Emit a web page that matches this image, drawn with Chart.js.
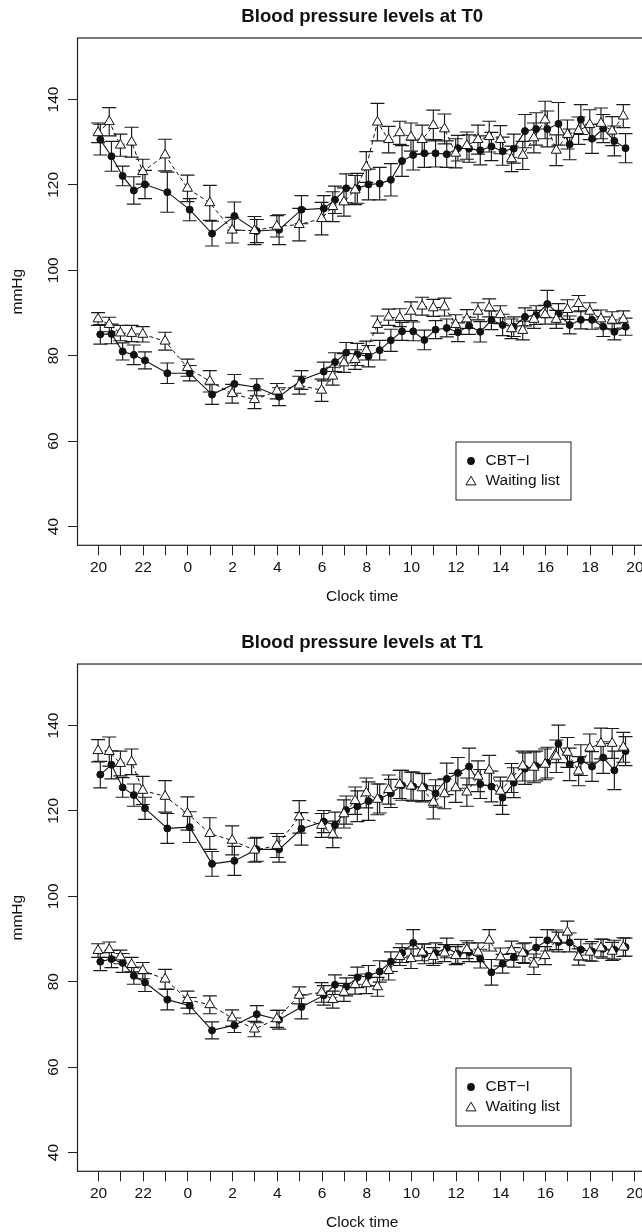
<!DOCTYPE html>
<html>
<head>
<meta charset="utf-8">
<script src="https://cdn.jsdelivr.net/npm/chart.js@4.4.1/dist/chart.umd.min.js"></script>
<style>
  html, body { margin: 0; padding: 0; background: #fff; overflow: hidden; width: 642px; height: 1232px; }
  canvas { display: block; }
</style>
</head>
<body>
<canvas id="chartT0" width="662" height="626"></canvas>
<canvas id="chartT1" width="662" height="626"></canvas>
<script>
// Clock times of the ambulatory readings (hours, next day continues past 24)
const times = [20, 20.5, 21, 21.5, 22, 23, 24, 25, 26, 27, 28, 29, 30, 30.5, 31, 31.5, 32, 32.5, 33, 33.5,
    34, 34.5, 35, 35.5, 36, 36.5, 37, 37.5, 38, 38.5, 39, 39.5, 40, 40.5, 41, 41.5, 42, 42.5, 43, 43.5];

// T0 - systolic / diastolic means and half error bars
const sysCbtT0 = [130.6, 126.7, 122.1, 118.7, 120.1, 118.3, 114.2, 108.6, 112.7, 109.2, 109.5, 114.2, 114.5, 116.5, 119.2, 119.2, 120.1, 120.3, 121.2, 125.6,
    127.0, 127.4, 127.4, 127.2, 128.6, 128.5, 128.1, 129.0, 127.9, 128.5, 132.6, 133.1, 133.1, 134.3, 129.5, 135.3, 130.8, 133.2, 130.3, 128.6];
const sysWlT0 = [132.2, 134.8, 129.3, 130.0, 123.1, 127.0, 119.2, 115.8, 109.4, 109.3, 110.3, 110.7, 112.1, 114.9, 116.0, 118.8, 124.2, 134.7, 130.6, 132.2,
    131.2, 130.6, 133.9, 133.1, 127.4, 129.2, 130.6, 131.3, 130.6, 126.1, 126.9, 131.0, 135.2, 128.1, 131.8, 132.7, 134.1, 134.4, 132.6, 136.1];
const diaCbtT0 = [85.0, 85.1, 81.0, 80.2, 78.9, 75.9, 75.9, 70.9, 73.4, 72.6, 70.4, 74.3, 76.3, 78.5, 80.7, 80.3, 79.9, 81.3, 83.6, 85.7,
    85.7, 83.7, 86.1, 86.5, 85.5, 87.0, 85.6, 88.3, 87.2, 86.8, 89.1, 89.5, 92.1, 89.8, 87.2, 88.4, 88.4, 86.8, 85.6, 86.8];
const diaWlT0 = [88.6, 87.3, 85.3, 85.2, 85.0, 83.4, 77.2, 74.0, 71.1, 69.7, 71.7, 73.1, 71.9, 75.2, 78.3, 79.1, 81.2, 87.3, 89.0, 88.9,
    90.4, 91.6, 91.2, 91.4, 87.3, 88.6, 90.4, 91.2, 89.6, 86.3, 85.9, 88.5, 89.6, 88.5, 90.8, 92.2, 90.4, 88.6, 88.3, 88.5];
const sysCbtT0Err = [3.6, 3.5, 2.3, 3.2, 3.3, 4.7, 2.6, 2.9, 3.3, 2.7, 3.5, 3.3, 3.0, 3.2, 3.4, 3.5, 3.6, 3.8, 3.8, 3.6,
    3.5, 3.3, 3.2, 3.1, 3.0, 3.2, 3.4, 3.3, 3.3, 3.4, 3.9, 3.8, 4.2, 5.0, 3.6, 3.5, 3.4, 3.3, 3.5, 3.4];
const sysWlT0Err = [2.3, 3.3, 2.6, 3.5, 2.9, 3.7, 3.1, 4.1, 3.0, 3.3, 2.5, 3.8, 3.8, 3.5, 3.3, 3.4, 3.6, 4.4, 3.1, 2.7,
    3.3, 3.4, 3.6, 3.5, 3.4, 3.2, 3.4, 3.6, 3.3, 3.0, 3.3, 3.5, 4.4, 3.6, 3.4, 3.2, 3.5, 3.6, 3.4, 2.7];
const diaCbtT0Err = [2.3, 2.3, 2.0, 2.3, 2.0, 2.4, 1.8, 2.3, 2.2, 2.0, 2.1, 2.2, 2.2, 2.2, 2.4, 2.6, 2.5, 2.3, 2.6, 2.1,
    2.2, 2.3, 2.1, 2.1, 2.2, 2.0, 2.4, 2.2, 2.5, 2.3, 2.1, 2.2, 3.2, 2.4, 2.1, 2.1, 2.2, 2.3, 1.9, 2.0];
const diaWlT0Err = [1.5, 1.7, 1.8, 1.9, 1.8, 2.1, 2.0, 2.5, 2.2, 2.1, 1.8, 2.1, 2.6, 2.1, 2.2, 2.3, 2.2, 2.0, 1.9, 2.1,
    2.2, 2.1, 2.0, 2.1, 2.3, 2.2, 2.0, 2.1, 2.1, 2.3, 2.2, 2.1, 2.2, 2.1, 2.3, 1.9, 2.0, 2.1, 2.0, 2.0];

// T1
const sysCbtT1 = [128.5, 130.8, 125.5, 123.7, 120.6, 115.9, 116.2, 107.6, 108.3, 111.0, 111.0, 115.8, 117.5, 116.7, 120.2, 121.1, 122.3, 122.9, 124.1, 126.0,
    125.7, 125.6, 124.1, 127.5, 128.9, 130.4, 126.3, 125.7, 123.1, 126.6, 129.9, 130.5, 131.3, 135.7, 130.9, 131.9, 130.4, 132.5, 129.5, 134.0];
const sysWlT1 = [134.1, 133.9, 131.1, 131.5, 124.8, 123.4, 119.4, 114.7, 113.1, 110.8, 111.9, 118.6, 116.6, 114.5, 119.3, 122.4, 124.2, 122.7, 125.0, 126.2,
    125.8, 125.4, 122.0, 124.0, 125.4, 124.4, 128.1, 129.5, 124.6, 127.7, 130.5, 130.2, 130.9, 132.8, 133.7, 129.3, 134.7, 135.8, 135.8, 134.9];
const diaCbtT1 = [84.7, 85.3, 84.4, 81.4, 79.8, 75.8, 74.4, 68.6, 69.8, 72.4, 71.1, 74.1, 76.8, 79.3, 78.8, 81.0, 81.4, 82.4, 84.7, 86.7,
    89.1, 86.5, 86.7, 87.9, 86.5, 86.9, 85.4, 82.2, 84.2, 85.7, 86.7, 88.0, 89.7, 89.3, 89.2, 87.5, 87.1, 87.7, 87.5, 88.1];
const diaWlT1 = [87.3, 87.5, 85.8, 84.0, 82.6, 80.6, 75.8, 74.6, 71.5, 68.9, 71.3, 76.8, 77.5, 75.8, 77.5, 79.3, 79.5, 78.8, 82.6, 85.9,
    85.4, 86.9, 85.9, 86.7, 86.1, 87.5, 86.9, 89.7, 85.8, 87.3, 86.7, 84.1, 86.1, 89.8, 91.6, 85.8, 86.9, 87.9, 87.1, 88.1];
const sysCbtT1Err = [3.1, 3.3, 2.3, 2.6, 2.6, 3.5, 3.6, 2.9, 3.4, 2.8, 3.0, 3.8, 2.6, 3.0, 3.3, 3.6, 4.5, 3.4, 3.3, 3.5,
    3.4, 3.2, 3.2, 3.7, 3.6, 4.3, 3.4, 3.6, 3.9, 3.5, 3.7, 3.5, 3.6, 4.4, 3.8, 3.6, 3.5, 3.7, 4.5, 3.4];
const sysWlT1Err = [2.6, 3.4, 2.9, 3.0, 3.3, 3.7, 3.9, 3.7, 3.4, 2.8, 2.8, 3.8, 2.8, 3.1, 3.3, 3.2, 3.5, 3.6, 3.4, 3.3,
    3.3, 3.3, 3.9, 3.5, 3.4, 3.3, 3.6, 3.5, 3.3, 3.4, 3.5, 3.6, 3.6, 3.8, 3.5, 3.4, 3.3, 3.6, 3.5, 3.5];
const diaCbtT1Err = [2.1, 2.0, 2.2, 2.0, 2.1, 2.4, 1.9, 2.0, 1.7, 2.0, 2.2, 2.8, 2.3, 2.3, 2.1, 2.4, 2.4, 2.5, 2.3, 2.2,
    3.1, 2.3, 2.4, 2.3, 2.2, 2.2, 2.2, 3.0, 2.2, 2.3, 2.4, 2.4, 2.5, 2.3, 2.2, 2.4, 2.3, 2.2, 2.2, 2.1];
const diaWlT1Err = [1.6, 1.8, 1.6, 1.7, 1.9, 2.3, 2.0, 2.1, 1.9, 1.8, 2.0, 2.0, 2.3, 2.0, 2.1, 2.2, 2.3, 2.2, 2.2, 2.1,
    2.3, 2.0, 2.1, 2.0, 2.1, 2.1, 2.2, 2.5, 2.1, 2.2, 2.2, 2.4, 2.1, 2.3, 2.6, 1.9, 2.0, 2.1, 2.1, 2.2];

const groupLabels = ['CBT\u2212I', 'Waiting list'];
const yTicksStep = 20;

// small horizontal offset so the two groups don't sit on top of each other
const dodge = { cbt: 0.08, wl: -0.02 };
const FONT = '"Liberation Sans", Arial, Helvetica, sans-serif';
const INK = '#111';
const TRI_R = 5.8;

// draws the vertical whiskers + caps under the markers
const errorBarPlugin = {
    id: 'errorBars',
    beforeDatasetsDraw(chart) {
        const { ctx } = chart;
        const xs = chart.scales.x, ys = chart.scales.y;
        ctx.save();
        ctx.strokeStyle = '#1a1a1a';
        ctx.lineWidth = 1.15;
        chart.data.datasets.forEach(ds => {
            ds.data.forEach((pt, i) => {
                const e = ds.errors[i];
                const x = xs.getPixelForValue(pt.x);
                const yTop = ys.getPixelForValue(pt.y + e);
                const yBot = ys.getPixelForValue(pt.y - e);
                ctx.beginPath();
                ctx.moveTo(x, yTop); ctx.lineTo(x, yBot);
                ctx.moveTo(x - 7, yTop); ctx.lineTo(x + 7, yTop);
                ctx.moveTo(x - 7, yBot); ctx.lineTo(x + 7, yBot);
                ctx.stroke();
            });
        });
        ctx.restore();
    }
};

// R style box around the plot + the small legend box
const boxLegendPlugin = {
    id: 'boxLegend',
    afterDraw(chart) {
        const { ctx, chartArea: a } = chart;
        ctx.save();
        ctx.strokeStyle = '#222';
        ctx.lineWidth = 1.2;
        ctx.strokeRect(a.left, a.top, a.right - a.left, a.bottom - a.top);

        const lx = 456, ly = 442, lw = 115, lh = 58;
        ctx.lineWidth = 1;
        ctx.strokeRect(lx, ly, lw, lh);
        // circle
        ctx.fillStyle = INK;
        ctx.beginPath();
        ctx.arc(471, 461, 3.9, 0, Math.PI * 2);
        ctx.fill();
        // open triangle
        ctx.fillStyle = '#fff';
        ctx.strokeStyle = INK;
        ctx.beginPath();
        for (let k = 0; k < 3; k++) {
            const ang = k * 2 * Math.PI / 3;
            const px = 471 + Math.sin(ang) * TRI_R, py = 482 - Math.cos(ang) * TRI_R;
            if (k === 0) ctx.moveTo(px, py); else ctx.lineTo(px, py);
        }
        ctx.closePath();
        ctx.fill();
        ctx.stroke();

        ctx.fillStyle = INK;
        ctx.font = '15.5px ' + FONT;
        ctx.textBaseline = 'middle';
        ctx.textAlign = 'left';
        ctx.fillText(groupLabels[0], 485.5, 461);
        ctx.fillText(groupLabels[1], 485.5, 481);
        ctx.restore();
    }
};

function series(vals, errs, shift) {
    return { data: vals.map((v, i) => ({ x: times[i] + shift, y: v })), errors: errs };
}

function cbtStyle(label) {
    return {
        label: label, order: 1,
        borderColor: INK, borderWidth: 1.1, tension: 0,
        pointStyle: 'circle', pointRadius: 3.5, pointBorderWidth: 1,
        pointBackgroundColor: INK, pointBorderColor: INK
    };
}
function wlStyle(label) {
    return {
        label: label, order: 0,
        borderColor: INK, borderWidth: 1, borderDash: [4, 3], tension: 0,
        pointStyle: 'triangle', pointRadius: TRI_R, pointBorderWidth: 1,
        pointBackgroundColor: '#fff', pointBorderColor: INK
    };
}

function makeChart(id, title, sysCbt, sysCbtErr, sysWl, sysWlErr, diaCbt, diaCbtErr, diaWl, diaWlErr) {
    const ctx = document.getElementById(id).getContext('2d');
    return new Chart(ctx, {
        type: 'line',
        data: {
            datasets: [
                Object.assign(cbtStyle(groupLabels[0]), series(sysCbt, sysCbtErr, dodge.cbt)),
                Object.assign(cbtStyle(groupLabels[0]), series(diaCbt, diaCbtErr, dodge.cbt)),
                Object.assign(wlStyle(groupLabels[1]), series(sysWl, sysWlErr, dodge.wl)),
                Object.assign(wlStyle(groupLabels[1]), series(diaWl, diaWlErr, dodge.wl))
            ]
        },
        options: {
            responsive: false,
            animation: false,
            devicePixelRatio: 1,
            layout: { padding: { left: 0, right: 15, top: 0, bottom: 0 } },
            plugins: {
                legend: { display: false },
                tooltip: { enabled: false },
                title: {
                    display: true,
                    text: title,
                    fullSize: false,
                    color: INK,
                    font: { family: FONT, size: 18.6, weight: 'bold' },
                    padding: { top: 6, bottom: 9.7 }
                }
            },
            scales: {
                x: {
                    type: 'linear',
                    min: 19.06,
                    max: 44.54,
                    border: { display: false },
                    grid: { drawOnChartArea: false, drawTicks: true, tickLength: 10, color: '#222', lineWidth: 1 },
                    ticks: {
                        stepSize: 1, autoSkip: false, includeBounds: false,
                        minRotation: 0, maxRotation: 0, padding: 3,
                        color: INK, font: { family: FONT, size: 15.5 },
                        callback: v => (v % 2 === 0 ? String(v % 24) : '')
                    },
                    title: {
                        display: true, text: 'Clock time', color: INK,
                        font: { family: FONT, size: 15.5 },
                        padding: { top: 0, bottom: 19.7 }
                    },
                    afterFit: s => { s.height = 80.7; }
                },
                y: {
                    min: 35.6,
                    max: 154.4,
                    border: { display: false },
                    grid: { drawOnChartArea: false, drawTicks: true, tickLength: 9.5, color: '#222', lineWidth: 1 },
                    ticks: {
                        stepSize: yTicksStep, includeBounds: false,
                        minRotation: 90, maxRotation: 90, crossAlign: 'center', padding: 1,
                        color: INK, font: { family: FONT, size: 15.5 }
                    },
                    title: {
                        display: true, text: 'mmHg', color: INK,
                        font: { family: FONT, size: 15.5 },
                        padding: { top: 8.2, bottom: 0 }
                    },
                    afterFit: s => { s.width = 77.5; }
                }
            }
        },
        plugins: [errorBarPlugin, boxLegendPlugin]
    });
}

makeChart('chartT0', 'Blood pressure levels at T0',
    sysCbtT0, sysCbtT0Err, sysWlT0, sysWlT0Err, diaCbtT0, diaCbtT0Err, diaWlT0, diaWlT0Err);
makeChart('chartT1', 'Blood pressure levels at T1',
    sysCbtT1, sysCbtT1Err, sysWlT1, sysWlT1Err, diaCbtT1, diaCbtT1Err, diaWlT1, diaWlT1Err);
</script>
</body>
</html>
